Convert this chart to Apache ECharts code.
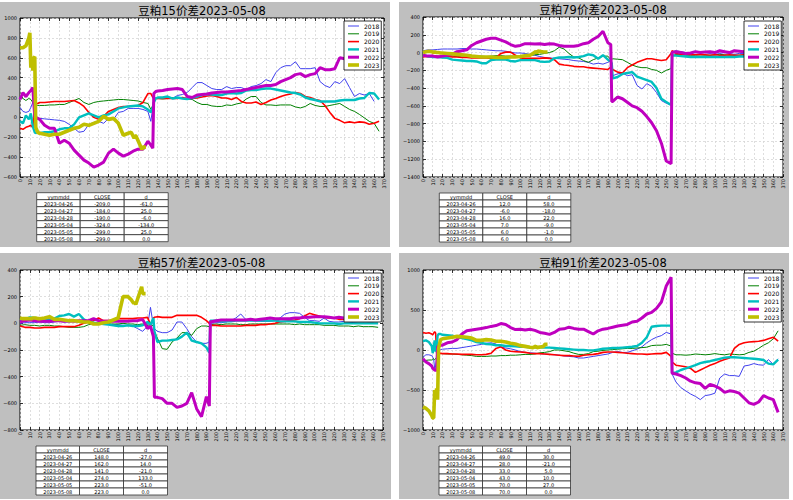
<!DOCTYPE html>
<html><head><meta charset="utf-8">
<script src="https://cdn.jsdelivr.net/npm/echarts@6/dist/echarts.min.js"></script>
<style>html,body{margin:0;padding:0;background:#fff}#c{width:793px;height:500px}</style>
</head><body><div id="c"></div>
<script>
// ---------------- data ----------------
const YEARS = ['2018','2019','2020','2021','2022','2023'];
const TITLES = ['豆粕15价差2023-05-08','豆粕79价差2023-05-08','豆粕57价差2023-05-08','豆粕91价差2023-05-08'];
const TABLE_HEAD = ['yymmdd','CLOSE','d'];
const TABLE_DATES = ['2023-04-26','2023-04-27','2023-04-28','2023-05-04','2023-05-05','2023-05-08'];
const P1_CLOSE = [-209,-184,-190,-324,-299,-299];
const P1_D = [-61,25,-6,-134,25,0];
const P2_CLOSE = [12,-6,16,7,6,6];
const P2_D = [58,-18,22,-9,-1,0];
const P3_CLOSE = [148,162,141,274,223,223];
const P3_D = [-27,14,-21,133,-51,0];
const P4_CLOSE = [49,28,33,43,70,70];
const P4_D = [30,-21,5,10,27,0];

// x sampling positions (day of year)
const X1 = [0,3,6,9,11,13,15,16,18,20,25,30,35,40,45,50,55,60,65,70,75,80,85,90,95,100,105,110,115,120,125,130,133,135,136,138,140,145,150,155,160,165,170,175,180,185,190,195,200,205,210,215,220,225,230,235,240,245,250,255,260,265,270,275,280,285,290,295,300,305,310,315,320,325,330,335,340,345,350,355,360,365];
const X2 = [0,5,10,15,20,25,30,35,40,45,50,55,60,65,70,75,80,85,90,95,100,105,110,115,120,125,130,135,140,145,150,155,160,165,170,175,180,185,190,193,194,195,200,205,210,215,220,225,230,235,240,245,250,255,256,260,265,270,275,280,285,290,295,300,305,310,315,320,325,330,335,340,345,350,355,360,365];
const X3 = [0,5,10,15,20,25,30,35,40,45,50,55,60,65,70,75,80,85,90,95,100,105,110,115,120,125,130,133,136,137,140,145,150,155,160,165,170,175,180,185,190,193,194,200,205,210,215,220,225,230,235,240,245,250,255,260,265,270,275,280,285,290,295,300,305,310,315,320,325,330,335,340,345,350,355,360,365];
const X4 = [0,3,6,9,10,11,12,13,14,15,16,18,20,25,30,35,40,45,50,55,60,65,70,75,80,85,90,95,100,105,110,115,120,125,130,135,140,145,150,155,160,165,170,175,180,185,190,195,200,205,210,215,220,225,230,235,240,245,250,255,256,260,265,270,275,280,285,290,295,300,305,310,315,320,325,330,335,340,345,350,355,360,365];
const X23 = [0,3,6,9,10,11,12,13,14,15,16,18,20,25,30,35,40,45,50,55,60,65,70,75,80,85,90,95,100,105,110,113,116,117,118,124,125,128];

// 豆粕15
const P1_2018 = [100,60,50,60,100,150,100,0,-5,-10,-15,-20,-25,-30,-40,-70,-110,-150,-140,-70,-50,-40,-60,-10,-20,50,60,90,90,90,80,60,-40,100,180,200,200,190,200,190,220,230,250,300,350,350,320,290,280,280,310,290,300,300,280,310,320,340,380,360,450,500,520,520,560,490,490,490,500,360,320,300,360,340,390,300,210,240,225,240,160,null];
const P1_2019 = [210,190,170,190,180,150,130,120,120,120,120,125,125,130,130,150,170,190,150,130,150,160,165,170,175,180,180,175,170,165,150,140,80,120,180,190,190,185,190,200,195,190,185,180,150,130,130,115,110,110,125,120,135,145,185,210,210,150,125,125,120,125,125,125,105,95,110,140,120,110,110,120,130,140,110,80,60,30,-5,-40,-60,-140];
const P1_2020 = [-110,-120,-100,-90,-80,-100,140,140,140,150,150,155,160,160,160,165,170,145,110,50,0,-20,10,60,80,100,110,110,115,120,150,240,240,200,190,190,190,190,190,190,190,200,190,190,195,205,215,220,210,195,195,180,200,160,145,145,155,130,150,175,190,210,225,235,250,240,210,200,180,170,120,50,-10,-30,-55,-45,-55,-45,-50,-70,-60,-40];
const P1_2021 = [-40,-60,20,-20,40,-90,-150,-160,-150,-160,-150,-150,-140,-120,-110,-110,-70,0,20,40,20,0,20,30,60,90,100,110,115,120,110,80,50,100,150,190,200,200,210,190,200,190,185,195,210,225,235,230,225,225,240,245,240,245,270,275,275,285,290,290,280,270,260,250,245,230,200,185,175,160,160,160,160,170,175,175,175,190,195,245,240,180];
const P1_2022 = [180,250,210,250,270,300,0,0,-10,-20,-80,-110,-110,-260,-230,-260,-330,-380,-430,-460,-500,-480,-450,-360,-320,-360,-390,-370,-340,-320,-320,-240,-280,-310,240,260,265,270,280,285,290,280,210,200,225,230,235,245,250,255,255,260,265,270,280,290,300,310,320,320,330,360,380,400,430,440,410,430,440,500,480,480,490,600,590,null,null,null,null,null,null,null];
const P1_2023 = [700,700,720,800,850,500,600,470,600,610,-100,-150,-160,-170,-180,-170,-170,-150,-130,-110,-100,-70,-80,-60,-40,10,-20,-10,-60,-180,-160,-150,-209,-184,-190,-324,-299,-299];

// 豆粕79
const P2_2018 = [20,30,30,35,40,40,40,40,45,45,40,40,35,30,25,20,20,15,5,-5,-5,-10,-20,-30,-45,-55,-60,-65,-70,-75,-80,-90,-95,-100,-110,-130,-120,-130,-110,-90,-120,-260,-240,-230,-260,-250,-370,-410,-350,-380,-450,-540,-570,-590,10,20,10,0,-10,0,10,0,-10,0,-10,0,-10,-20,-10,-10,-10,-10,-10,-10,-10,-10,-10];
const P2_2019 = [-40,-50,-50,-50,-45,-40,-40,-45,-50,-50,-45,-40,-40,-45,-40,-35,-35,-40,-40,-40,-35,-30,-35,-25,-20,-10,0,20,60,40,-10,-50,-60,-90,-110,-80,-60,-40,-40,-80,-80,-70,-75,-80,-110,-140,-160,-170,-170,-190,-200,-230,-200,-180,-40,-20,-20,-30,-30,-30,-25,-30,-30,-25,-20,-25,-30,-30,-30,-25,-30,-30,-30,-30,-30,-30,-30];
const P2_2020 = [-50,-40,-35,-40,-45,-45,-50,-50,-55,-55,-60,-60,-60,-60,-65,-60,-10,5,5,-30,-60,-65,-65,-65,-65,-60,-65,-80,-130,-140,-145,-155,-160,-160,-170,-175,-180,-185,-190,-165,-170,-190,-220,-230,-170,-140,-110,-90,-70,-70,-80,-90,-80,-10,20,-10,-20,-20,-25,-25,-20,-25,-30,-25,-30,-30,-25,-30,-30,-25,-30,-30,-30,-30,-30,-30,-30];
const P2_2021 = [-30,-40,-50,-50,-55,-60,-80,-85,-90,-95,-95,-100,-120,-120,-85,-80,-80,-80,-95,-100,-85,-85,-85,-85,-100,-105,-100,-65,-55,-55,-50,-55,-50,-40,-20,-30,-70,-30,-80,-100,-120,-290,-275,-240,-230,-220,-270,-290,-310,-330,-400,-520,-555,-590,-30,-35,-40,-45,-50,-50,-50,-50,-50,-50,-50,-50,-50,-50,-45,-45,-45,-45,-45,-45,-45,-45,-45];
const P2_2022 = [-30,-40,-40,-50,-40,-30,-20,10,20,30,80,110,130,150,160,160,140,120,90,70,80,100,100,95,100,90,100,95,80,70,70,70,80,100,110,150,180,240,110,90,-550,-550,-500,-520,-560,-600,-620,-660,-720,-790,-880,-1020,-1220,-1250,0,10,0,-10,-5,10,0,5,10,0,20,10,0,20,15,10,10,15,null,null,null,null,null];
const P2_2023 = [0,10,15,10,5,5,5,5,0,0,0,-5,-5,-10,-15,-20,-25,-30,-40,-45,-50,-50,-50,-55,-55,-55,-50,-50,-45,-35,-30,-10,12,-6,16,7,6,6];

// 豆粕57
const P3_2018 = [0,5,5,5,10,5,5,10,15,10,10,15,10,5,10,5,5,0,-5,-10,-10,-15,-15,-20,-40,-60,-20,120,-20,-40,-60,-70,-70,-50,10,10,-40,-100,-140,-150,-150,-140,0,5,5,10,20,40,70,30,20,20,15,15,15,20,40,70,80,80,75,45,20,20,15,40,15,10,10,15,10,5,0,0,0,0,null];
const P3_2019 = [-15,-10,-15,-15,-20,-15,-15,-20,-20,-25,-30,-30,-30,-25,-10,-5,0,-5,-5,-5,-5,0,-5,-5,-10,-5,-15,-10,-20,-60,-110,-190,-195,-140,-110,-70,-70,-90,-40,-20,-20,-25,-10,-5,-10,-5,-5,-5,-10,-10,-5,-5,-5,-5,-5,-5,-5,-5,-5,-10,-5,-10,-10,-10,-10,-15,-15,-15,-20,-20,-20,-25,-20,-25,-25,-25,-30];
const P3_2020 = [-20,-30,-30,-35,-35,-30,-30,-30,-25,-25,-25,-25,-15,0,10,20,40,20,20,20,35,35,35,35,40,40,45,-10,40,45,50,45,45,45,60,60,60,60,60,45,20,0,-15,-15,-20,-20,-20,-20,-20,-15,-15,-15,-10,-10,-5,0,10,15,20,25,35,55,75,65,55,45,40,40,30,30,25,20,20,20,15,15,null];
const P3_2021 = [20,30,45,40,35,35,30,35,55,60,70,50,70,30,10,5,0,-5,-10,-15,-20,-20,-15,-20,-20,-15,10,-10,40,-60,-140,-130,-130,-125,-120,-100,-70,-130,-140,-150,-180,-220,20,20,15,15,15,20,20,20,20,20,20,20,20,20,15,15,15,15,10,10,10,5,0,0,0,0,-5,0,0,0,0,0,0,0,0];
const P3_2022 = [10,20,25,20,15,15,15,20,20,15,20,15,20,20,20,35,20,15,15,15,15,15,15,20,20,30,-40,-20,-100,-555,-555,-565,-600,-600,-630,-620,-600,-520,-640,-700,-550,-620,10,20,25,25,25,25,25,25,30,25,30,35,40,35,35,35,35,40,40,45,45,50,50,50,45,40,45,40,null,null,null,null,null,null,null];
const P3_2023 = [40,35,35,35,35,35,35,40,40,40,40,35,35,40,50,30,30,25,20,20,15,10,10,-5,-5,5,10,25,40,200,200,180,148,162,141,274,223,223];

// 豆粕91
const P4_2018 = [-90,-60,-60,-70,-90,-120,-230,-200,-100,-20,0,5,10,15,20,20,30,40,50,60,70,85,90,75,35,25,15,0,-20,-30,-35,-40,-45,-50,-55,-60,-65,-75,-80,-85,-100,-100,-90,-80,-70,-60,-50,-30,-20,-30,-30,-10,10,40,90,130,160,180,220,200,-300,-400,-470,-510,-550,-580,-620,-570,-560,-540,-350,-300,-320,-320,-330,-200,-190,-170,-185,-190,-120,-180,-110];
const P4_2019 = [-140,-130,-125,-125,-120,-110,-120,-110,-90,-50,-45,-45,-45,-50,-50,-55,-60,-65,-70,-80,-80,-80,-75,-75,-70,-70,-65,-65,-60,-55,-55,-50,-35,-30,-20,0,0,-10,-20,-40,-55,-55,-45,-20,-15,-5,0,5,10,15,20,20,25,30,35,55,60,60,70,50,-40,-60,-60,-65,-60,-50,-55,-60,-55,-45,-55,-60,-50,-55,-60,-55,-30,-15,20,60,90,140,240];
const P4_2020 = [220,210,215,200,190,210,230,210,-40,-45,-45,-40,-45,-45,-50,-50,-55,-55,-55,-60,-60,-55,-40,20,40,0,-15,-20,-25,-30,-40,-45,-45,-50,-55,-60,-65,-70,-70,-75,-80,-65,-60,-55,-45,-30,-25,-25,-30,-35,-40,-45,-50,-50,-55,-50,-45,-45,-30,-80,-150,-190,-200,-210,-230,-280,-250,-220,-190,-170,-140,-120,-100,20,70,90,100,105,110,120,140,160,110];
const P4_2021 = [110,120,100,50,-40,40,120,-20,30,180,200,200,190,185,180,165,150,135,120,100,90,75,70,60,60,50,50,45,40,40,35,35,35,30,30,25,20,15,10,5,0,0,-5,-5,5,15,20,25,25,30,35,40,50,90,160,290,300,305,305,305,-290,-280,-250,-230,-210,-190,-165,-150,-140,-125,-110,-95,-90,-90,-95,-100,-105,-110,-115,-125,-170,-180,-120];
const P4_2022 = [-110,-150,-170,-200,-230,-240,-250,-255,-250,40,50,60,60,90,100,130,200,240,250,260,270,280,295,305,330,320,280,255,260,250,260,245,220,210,195,220,260,265,285,270,260,260,230,200,240,260,270,285,300,310,320,350,360,400,450,470,520,600,800,910,-290,-300,-320,-350,-390,-410,-420,-480,-430,-450,-480,-530,-510,-520,-540,-600,-660,-680,-650,-570,-600,-620,-780];
const P4_2023 = [-710,-730,-760,-820,-850,-850,-500,-620,-480,-620,20,130,140,150,160,170,165,160,150,120,120,130,125,110,110,100,85,75,55,45,35,30,49,28,33,43,70,70];

// ---------------- styling / layout ----------------
const COLORS = ['#4040ee','#008000','#ff0000','#00bfbf','#bf00bf','#bfbf00'];
const WIDTHS = [1,1,1.6,2.4,3,3.6];
const PANELS = [
  {xs:X1, ys:[P1_2018,P1_2019,P1_2020,P1_2021,P1_2022], y23:P1_2023, ymin:-600, ymax:1000, yint:200, close:P1_CLOSE, d:P1_D,
   bg:[0,2,390,245], grid:[20,18,364,159], legend:[344,21], table:[36.7,192.7]},
  {xs:X2, ys:[P2_2018,P2_2019,P2_2020,P2_2021,P2_2022], y23:P2_2023, ymin:-1400, ymax:400, yint:200, close:P2_CLOSE, d:P2_D,
   bg:[399,2,390,245], grid:[423,17,360,160], legend:[744,21], table:[439.3,193]},
  {xs:X3, ys:[P3_2018,P3_2019,P3_2020,P3_2021,P3_2022], y23:P3_2023, ymin:-800, ymax:400, yint:200, close:P3_CLOSE, d:P3_D,
   bg:[0,253,391,246], grid:[20,270,363,160], legend:[344,273], table:[36,446]},
  {xs:X4, ys:[P4_2018,P4_2019,P4_2020,P4_2021,P4_2022], y23:P4_2023, ymin:-1000, ymax:1000, yint:500, close:P4_CLOSE, d:P4_D,
   bg:[399,253,390,246], grid:[423,270,360,160], legend:[744,273], table:[439,446]}
];
const COLW = [43.5,44,44];
const ROWH = 7;
const FONT = '"DejaVu Sans","Noto Sans CJK SC",sans-serif';
const ICON_W = 11, ICON_H = 6;
// legend icon: horizontal band of given thickness inside an 11x6 box (degenerate corner points fix the box)
const iconPath = w => 'path://M0,0L0,0M0,' + (ICON_H/2 - w/2) + 'H' + ICON_W + 'V' + (ICON_H/2 + w/2) + 'H0ZM' + ICON_W + ',' + ICON_H + 'L' + ICON_W + ',' + ICON_H;

const warnings = [];
function pairs(xs, ys, tag){
  if (xs.length !== ys.length) warnings.push(tag + ' ' + ys.length + '/' + xs.length);
  const out = [];
  for (let i = 0; i < ys.length && i < xs.length; i++) if (ys[i] !== null && ys[i] !== undefined) out.push([xs[i], ys[i]]);
  return out;
}
const minus = v => v < 0 ? '\u2212' + Math.abs(v) : String(v);

const option = {animation:false, backgroundColor:'#ffffff', grid:[], xAxis:[], yAxis:[], series:[], legend:[], graphic:[]};
const tick = {show:true, inside:true, length:3, lineStyle:{color:'#000', width:0.8}};
const gridLine = {show:true, lineStyle:{color:'#d6d6d6', type:[2,2], width:0.8}};
PANELS.forEach((p, i) => {
  const [gl, gt, gw, gh] = p.grid;
  option.grid.push({left:gl, top:gt, width:gw, height:gh, show:true, backgroundColor:'#fff', borderColor:'#000', borderWidth:1, containLabel:false});
  option.xAxis.push({type:'value', gridIndex:i, position:'bottom', min:0, max:370, interval:10, axisLine:{show:false, onZero:false}, axisTick:tick,
    splitLine:gridLine, axisLabel:{rotate:90, fontSize:5, margin:2, color:'#000', fontFamily:FONT}});
  option.xAxis.push({type:'value', gridIndex:i, position:'top', min:0, max:370, interval:10, axisLine:{show:false, onZero:false}, axisTick:tick, axisLabel:{show:false}, splitLine:{show:false}});
  option.yAxis.push({type:'value', gridIndex:i, position:'left', min:p.ymin, max:p.ymax, interval:p.yint, axisLine:{show:false, onZero:false}, axisTick:tick,
    splitLine:gridLine, axisLabel:{fontSize:5, margin:3, color:'#000', fontFamily:FONT, formatter:minus}});
  option.yAxis.push({type:'value', gridIndex:i, position:'right', min:p.ymin, max:p.ymax, interval:p.yint, axisLine:{show:false, onZero:false}, axisTick:tick, axisLabel:{show:false}, splitLine:{show:false}});
  YEARS.forEach((yr, k) => {
    const data = k < 5 ? pairs(p.xs, p.ys[k], 'P'+(i+1)+' '+yr) : pairs(X23, p.y23, 'P'+(i+1)+' '+yr);
    option.series.push({type:'line', name:yr, xAxisIndex:2*i, yAxisIndex:2*i, data:data, symbol:'none', showSymbol:false,
      silent:true, emphasis:{disabled:true}, lineStyle:{color:COLORS[k], width:WIDTHS[k]}, itemStyle:{color:COLORS[k]}});
  });
  option.legend.push({data:YEARS.map((yr, k) => ({name:yr, icon:iconPath(WIDTHS[k]), itemStyle:{color:COLORS[k], borderWidth:0}})),
    orient:'vertical', left:p.legend[0], top:p.legend[1], padding:[2,2,2,4], itemGap:1.8,
    itemWidth:ICON_W, itemHeight:ICON_H, backgroundColor:'#fff', borderColor:'#000', borderWidth:0.8, selectedMode:false,
    itemStyle:{borderWidth:0}, textStyle:{fontSize:6, color:'#000', fontFamily:FONT}});
  option.graphic.push({type:'rect', z:-10, silent:true, shape:{x:p.bg[0], y:p.bg[1], width:p.bg[2], height:p.bg[3]}, style:{fill:'#bfbfbf'}});
  option.graphic.push({type:'text', z:10, silent:true, x:gl+gw/2, y:gt-1, style:{text:TITLES[i], fill:'#000', fontSize:11.5, fontFamily:FONT,
    textAlign:'center', align:'center', textVerticalAlign:'bottom', verticalAlign:'bottom'}});
  const rows = [TABLE_HEAD].concat(TABLE_DATES.map((dt, j) => [dt, p.close[j].toFixed(1), p.d[j].toFixed(1)]));
  const [tx, ty] = p.table;
  rows.forEach((row, r) => {
    let cx = tx;
    row.forEach((cell, c) => {
      option.graphic.push({type:'rect', z:10, silent:true, shape:{x:cx, y:ty + r*ROWH, width:COLW[c], height:ROWH}, style:{fill:'#fff', stroke:'#333', lineWidth:0.8}});
      option.graphic.push({type:'text', z:11, silent:true, x:cx + COLW[c]/2, y:ty + r*ROWH + ROWH/2 + 0.3, style:{text:cell, fill:'#000', fontSize:5, fontFamily:FONT,
        textAlign:'center', align:'center', textVerticalAlign:'middle', verticalAlign:'middle'}});
      cx += COLW[c];
    });
  });
});
if (warnings.length) option.graphic.push({type:'text', z:100, x:200, y:240, style:{text:'LEN ' + warnings.join('; '), fill:'#f00', fontSize:10}});

const chart = echarts.init(document.getElementById('c'), null, {renderer:'svg'});
chart.setOption(option);
</script>
</body></html>
